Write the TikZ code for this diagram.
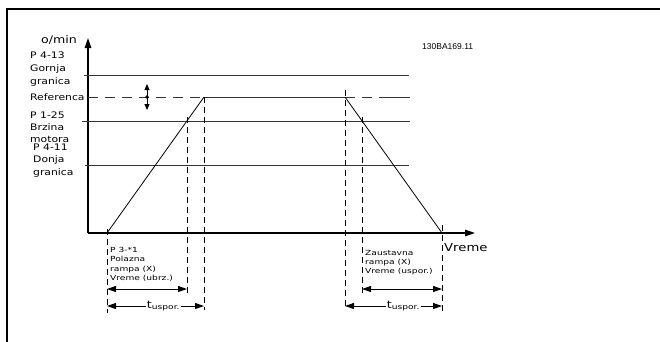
\documentclass[tikz,border=0pt]{standalone}
\usepackage{fontspec}
\setmainfont{DejaVu Sans}
\newfontfamily\labf{DejaVu Sans}[FakeStretch=1.2]
\newfontfamily\smlf{DejaVu Sans}[FakeStretch=1.3]
\newfontfamily\idf{Liberation Sans}
\usetikzlibrary{arrows.meta}
\begin{document}
\begin{tikzpicture}[x=1pt,y=-1pt,
  axisline/.style={line width=1.3pt, -{Triangle[length=10pt,width=6.5pt]}},
  hline/.style={line width=0.9pt, draw=black!80},
  refdash/.style={line width=0.9pt, draw=black!80, dash pattern=on 10pt off 7pt},
  rampline/.style={line width=0.8pt},
  vdash/.style={line width=0.8pt, dash pattern=on 6pt off 4pt},
  dimline/.style={line width=0.9pt, {Triangle[length=9pt,width=6pt]}-{Triangle[length=9pt,width=6pt]}},
  biglab/.style={font=\labf\fontsize{9}{12}\selectfont, align=left, inner sep=0pt, anchor=north west},
  smlab/.style={font=\smlf\fontsize{7}{9.3}\selectfont, align=left, inner sep=0pt, anchor=north west},
  tlab/.style={font=\labf\fontsize{10.5}{10.5}\selectfont, fill=white, inner sep=1pt},
]
\useasboundingbox (0,0) rectangle (660,341);
% frame
\draw[line width=1.2pt] (7,345) -- (7,9) -- (665,9);

% axes
\coordinate (O) at (88,233);
\coordinate (ytip) at (88,38);
\coordinate (xtip) at (475,233);
\draw[axisline] (O) -- (ytip);
\draw[axisline] (O) -- (xtip);
\node[font=\labf\fontsize{10.5}{10.5}\selectfont, inner sep=0pt] (omin) at (59,40) {o/min};
\node[font=\labf\fontsize{11}{11}\selectfont, inner sep=0pt, anchor=west] (vreme) at (444,248) {Vreme};
\node[font=\idf\fontsize{8.5}{8.5}\selectfont, inner sep=0pt, anchor=west] (code) at (422,47) {130BA169.11};

% horizontal levels
\coordinate (g0) at (84,75.5);  \coordinate (g1) at (409,75.5);
\coordinate (r0) at (88,97);    \coordinate (r1) at (410,97);
\coordinate (b0) at (82,121);   \coordinate (b1) at (410,121);
\coordinate (n0) at (85,165);   \coordinate (n1) at (409,165);
\draw[hline] (g0) -- (g1);
\draw[hline] (b0) -- (b1);
\draw[hline] (n0) -- (n1);

% ramps
\coordinate (a0) at (107,233);
\coordinate (a1) at (204,97);
\coordinate (d0) at (345,97);
\coordinate (d1) at (442,233);
\coordinate (rx) at (382,97);
\draw[refdash] (r0) -- (a1);
\draw[hline] (a1) -- (d0);
\draw[refdash] (d0) -- (rx);
\draw[hline] (rx) -- (r1);
\draw[rampline] (a0) -- (a1);
\draw[rampline] (d0) -- (d1);

% labels left
\node[biglab, font=\labf\fontsize{9}{13}\selectfont] (lg) at (30,51.5) {P 4-13\\Gornja\\granica};
\node[biglab, anchor=west] (lr) at (30,97) {Referenca};
\node[biglab] (lb) at (30,111.5) {P 1-25\\Brzina\\motora};
\node[biglab, font=\labf\fontsize{9}{12.5}\selectfont] (ln) at (33,143.5) {P 4-11\\Donja\\granica};

% reference adjust arrow
\coordinate (adjT) at (147,84);
\coordinate (adjB) at (147,110);
\coordinate (adjM) at (147,97);
\draw[line width=0.9pt, {Triangle[length=6pt,width=5pt]}-{Triangle[length=6pt,width=5pt]}] (adjT) -- (adjB);
\fill (adjM) circle (1.8pt);

% vertical dashed lines
\coordinate (v1t) at (107,229); \coordinate (v1b) at (107,313);
\coordinate (v2t) at (187,117); \coordinate (v2b) at (187,293);
\coordinate (v3t) at (204,97);  \coordinate (v3b) at (204,310);
\coordinate (v4t) at (345,90);  \coordinate (v4b) at (345,309);
\coordinate (v5t) at (362,117); \coordinate (v5b) at (362,293);
\coordinate (v6t) at (442,225); \coordinate (v6b) at (442,312);
\draw[vdash] (v1t) -- (v1b);
\draw[vdash] (v2t) -- (v2b);
\draw[vdash] (v3t) -- (v3b);
\draw[vdash] (v4t) -- (v4b);
\draw[vdash] (v5t) -- (v5b);
\draw[vdash] (v6t) -- (v6b);

% small text blocks
\node[smlab] (lacc) at (110,247) {P 3-*1\\Polazna\\rampa (X)\\Vreme (ubrz.)};
\node[smlab] (ldec) at (365,250) {Zaustavna\\rampa (X)\\Vreme (uspor.)};

% dimension arrows
\coordinate (p1a) at (107,289); \coordinate (p1b) at (187,289);
\coordinate (p2a) at (107,306); \coordinate (p2b) at (204,306);
\coordinate (q1a) at (362,289); \coordinate (q1b) at (442,289);
\coordinate (q2a) at (345,306); \coordinate (q2b) at (442,306);
\draw[dimline] (p1a) -- (p1b);
\draw[dimline] (p2a) -- (p2b) node[tlab, pos=0.58] (t1) {t\raisebox{-1.5pt}{\smlf\fontsize{7}{7}\selectfont uspor.}};
\draw[dimline] (q1a) -- (q1b);
\draw[dimline] (q2a) -- (q2b) node[tlab, pos=0.6] (t2) {t\raisebox{-1.5pt}{\smlf\fontsize{7}{7}\selectfont uspor.}};
\end{tikzpicture}
\end{document}
